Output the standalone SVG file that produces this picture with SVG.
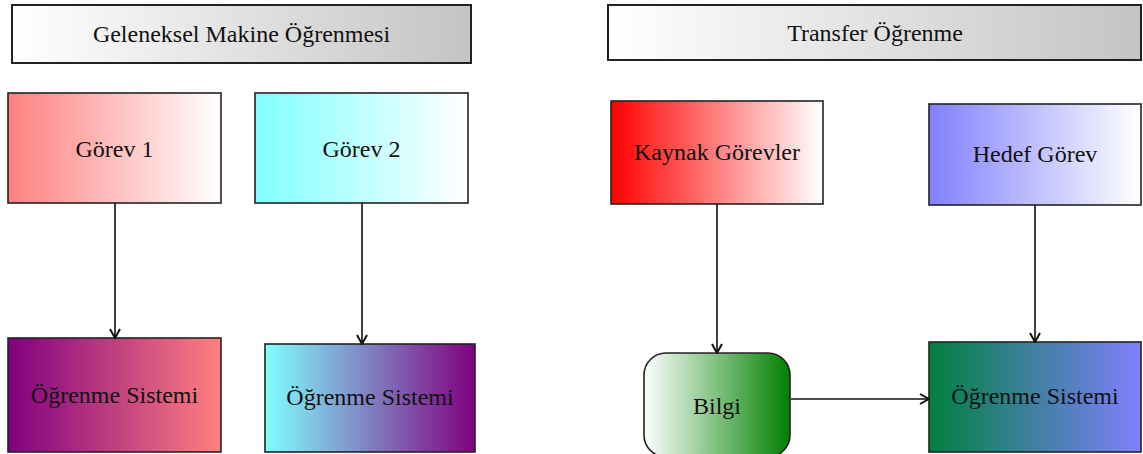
<svg xmlns="http://www.w3.org/2000/svg" width="1143" height="454" viewBox="0 0 1143 454">
<defs>
<linearGradient id="gHead" x1="0" y1="0" x2="1" y2="0"><stop offset="0" stop-color="#ffffff"/><stop offset="1" stop-color="#c4c4c4"/></linearGradient>
<linearGradient id="gG1" x1="0" y1="0" x2="1" y2="0"><stop offset="0" stop-color="#ff8080"/><stop offset="1" stop-color="#ffffff"/></linearGradient>
<linearGradient id="gG2" x1="0" y1="0" x2="1" y2="0"><stop offset="0" stop-color="#80ffff"/><stop offset="1" stop-color="#ffffff"/></linearGradient>
<linearGradient id="gS1" x1="0" y1="0" x2="1" y2="0"><stop offset="0" stop-color="#800080"/><stop offset="1" stop-color="#ff8080"/></linearGradient>
<linearGradient id="gS2" x1="0" y1="0" x2="1" y2="0"><stop offset="0" stop-color="#80ffff"/><stop offset="1" stop-color="#800080"/></linearGradient>
<linearGradient id="gK" x1="0" y1="0" x2="1" y2="0"><stop offset="0" stop-color="#ff0000"/><stop offset="1" stop-color="#ffffff"/></linearGradient>
<linearGradient id="gH" x1="0" y1="0" x2="1" y2="0"><stop offset="0" stop-color="#8080ff"/><stop offset="1" stop-color="#ffffff"/></linearGradient>
<linearGradient id="gB" x1="0" y1="0" x2="1" y2="0"><stop offset="0" stop-color="#ffffff"/><stop offset="1" stop-color="#008000"/></linearGradient>
<linearGradient id="gS3" x1="0" y1="0" x2="1" y2="0"><stop offset="0" stop-color="#008040"/><stop offset="1" stop-color="#8080ff"/></linearGradient>
<marker id="arr" viewBox="0 0 12 12" refX="11" refY="6" markerWidth="12" markerHeight="12" markerUnits="userSpaceOnUse" orient="auto">
<path d="M2,1 L11,6 L2,11" fill="none" stroke="#111" stroke-width="2"/>
</marker>
</defs>
<style>
.box{stroke:#222;stroke-width:1.6}
.head{stroke:#222;stroke-width:2}
.t{font-family:"Liberation Serif","Times New Roman",serif;font-size:24px;fill:#111;text-anchor:middle}
.c{fill:none;stroke:#111;stroke-width:1.6}
</style>
<rect width="1143" height="454" fill="#ffffff"/>
<g id="head1"><rect class="head" x="12" y="5" width="459" height="58" fill="url(#gHead)"/><text class="t" x="241.5" y="42">Geleneksel Makine Öğrenmesi</text></g>
<g id="head2"><rect class="head" x="608" y="5" width="533" height="55" fill="url(#gHead)"/><text class="t" x="875" y="41">Transfer Öğrenme</text></g>
<g id="gorev1"><rect class="box" x="8" y="93" width="213" height="110" fill="url(#gG1)"/><text class="t" x="114.5" y="157">Görev 1</text></g>
<g id="gorev2"><rect class="box" x="255" y="93" width="213" height="110" fill="url(#gG2)"/><text class="t" x="361.5" y="157">Görev 2</text></g>
<g id="sistem1"><rect class="box" x="8" y="338" width="213" height="114" fill="url(#gS1)"/><text class="t" x="114.5" y="403">Öğrenme Sistemi</text></g>
<g id="sistem2"><rect class="box" x="265" y="344" width="210" height="108" fill="url(#gS2)"/><text class="t" x="370" y="405">Öğrenme Sistemi</text></g>
<g id="kaynak"><rect class="box" x="611" y="101" width="212" height="103" fill="url(#gK)"/><text class="t" x="717" y="160">Kaynak Görevler</text></g>
<g id="hedef"><rect class="box" x="929" y="104" width="212" height="101" fill="url(#gH)"/><text class="t" x="1035" y="162">Hedef Görev</text></g>
<g id="bilgi"><rect class="box" x="644" y="353" width="146" height="104" rx="22" ry="22" fill="url(#gB)"/><text class="t" x="717" y="414">Bilgi</text></g>
<g id="sistem3"><rect class="box" x="929" y="342" width="212" height="110" fill="url(#gS3)"/><text class="t" x="1035" y="404">Öğrenme Sistemi</text></g>
<g id="connectors">
<line class="c" x1="115" y1="203" x2="115" y2="338" marker-end="url(#arr)"/>
<line class="c" x1="362" y1="203" x2="362" y2="344" marker-end="url(#arr)"/>
<line class="c" x1="717" y1="204" x2="717" y2="353" marker-end="url(#arr)"/>
<line class="c" x1="1035" y1="205" x2="1035" y2="342" marker-end="url(#arr)"/>
<line class="c" x1="791" y1="399" x2="929" y2="399" marker-end="url(#arr)"/>
</g>
</svg>
